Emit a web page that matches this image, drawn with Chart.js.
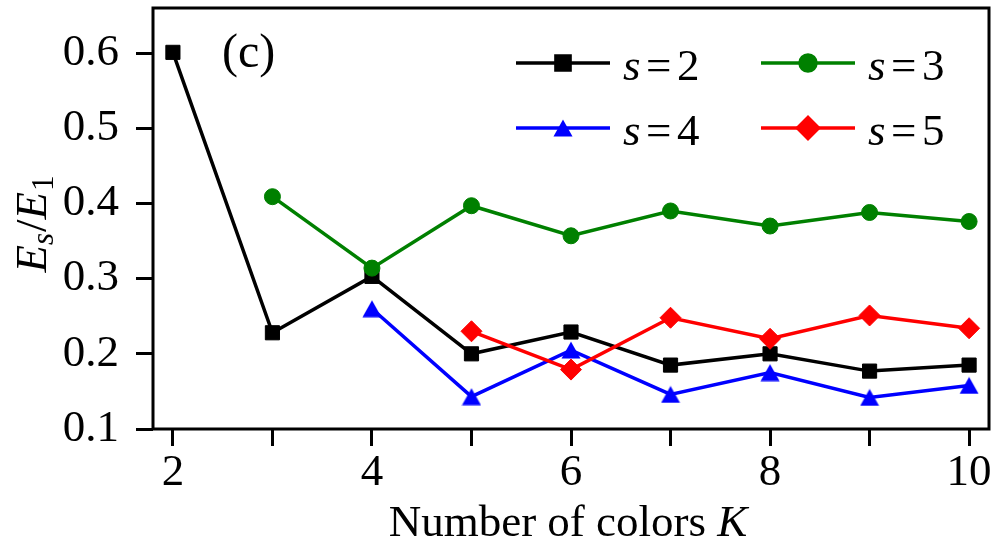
<!DOCTYPE html>
<html>
<head>
<meta charset="utf-8">
<title>Es/E1 vs K</title>
<script src="https://cdn.jsdelivr.net/npm/chart.js@4"></script>
<style>
  html, body { margin: 0; padding: 0; background: #fff; }
</style>
</head>
<body>
<canvas id="grafico" width="993" height="543"></canvas>
<script>
// Número de colores K
const kValores = [2, 3, 4, 5, 6, 7, 8, 9, 10];

// Cociente Es/E1 para cada s (null = sin dato para ese K)
const serieS2 = [0.601, 0.228, 0.303, 0.200, 0.229, 0.185, 0.200, 0.177, 0.185];
const serieS3 = [null, 0.409, 0.314, 0.397, 0.357, 0.390, 0.370, 0.388, 0.376];
const serieS4 = [null, null, 0.260, 0.143, 0.205, 0.146, 0.175, 0.142, 0.158];
const serieS5 = [null, null, null, 0.230, 0.179, 0.248, 0.220, 0.251, 0.234];

// Marcas de los ejes
const ticksX = [2, 3, 4, 5, 6, 7, 8, 9, 10];
const etiquetasX = ['2', '', '4', '', '6', '', '8', '', '10'];
const ticksY = [0.1, 0.2, 0.3, 0.4, 0.5, 0.6];

const FUENTE = '"Liberation Serif", "Times New Roman", serif';
const TAM = 45;

// Triángulo centrado por su caja (como el marcador '^')
function crearTriangulo(color) {
  const c = document.createElement('canvas');
  c.width = 20;
  c.height = 18;
  const g = c.getContext('2d');
  g.fillStyle = color;
  g.beginPath();
  g.moveTo(10, 0.5);
  g.lineTo(19.5, 17.5);
  g.lineTo(0.5, 17.5);
  g.closePath();
  g.fill();
  return c;
}
const trianguloAzul = crearTriangulo('#0000ff');

function aPuntos(valores) {
  return kValores
    .map((k, i) => ({ x: k, y: valores[i] }))
    .filter((p) => p.y !== null);
}

const series = [
  { nombre: '2', valores: serieS2, color: '#000000', estilo: 'rect', radio: 10, orden: 4 },
  { nombre: '3', valores: serieS3, color: '#008000', estilo: 'circle', radio: 8, orden: 3 },
  { nombre: '4', valores: serieS4, color: '#0000ff', estilo: trianguloAzul, radio: 9, orden: 2 },
  { nombre: '5', valores: serieS5, color: '#ff0000', estilo: 'rectRot', radio: 10.5, orden: 1 },
];

// Dibuja una secuencia de trozos de texto con fuentes distintas
function dibujarTrozos(ctx, trozos, x, y) {
  let cx = x;
  trozos.forEach((t) => {
    ctx.font = t.fuente;
    ctx.fillText(t.texto, cx + (t.dx || 0), y + (t.dy || 0));
    cx += ctx.measureText(t.texto).width + (t.dx || 0);
  });
  return cx - x;
}

function anchoTrozos(ctx, trozos) {
  let w = 0;
  trozos.forEach((t) => {
    ctx.font = t.fuente;
    w += ctx.measureText(t.texto).width + (t.dx || 0);
  });
  return w;
}

// Quita el margen que Chart.js reserva para medio rótulo en los extremos
function ajustarEje(tam, esX) {
  return function (scale) {
    if (esX) scale.height = tam; else scale.width = tam;
    scale.paddingTop = 0;
    scale.paddingBottom = 0;
    scale.paddingLeft = 0;
    scale.paddingRight = 0;
  };
}

const extras = {
  id: 'extras',
  afterDraw(chart) {
    const ctx = chart.ctx;
    const area = chart.chartArea;
    ctx.save();

    // Marco completo
    ctx.strokeStyle = '#000';
    ctx.lineWidth = 3;
    ctx.strokeRect(area.left, area.top, area.right - area.left, area.bottom - area.top);

    ctx.fillStyle = '#000';
    ctx.textBaseline = 'alphabetic';
    ctx.textAlign = 'left';

    // Etiqueta del panel
    ctx.font = '48px ' + FUENTE;
    ctx.fillText('(c)', 222, 67);

    // Título del eje X
    const trozosX = [
      { texto: 'Number of colors ', fuente: TAM + 'px ' + FUENTE },
      { texto: 'K', fuente: 'italic ' + TAM + 'px ' + FUENTE },
    ];
    const wx = anchoTrozos(ctx, trozosX);
    dibujarTrozos(ctx, trozosX, 568 - wx / 2, 536);

    // Título del eje Y: Es/E1
    const trozosY = [
      { texto: 'E', fuente: 'italic ' + TAM + 'px ' + FUENTE },
      { texto: 's', fuente: 'italic 31px ' + FUENTE, dy: 7 },
      { texto: '/', fuente: TAM + 'px ' + FUENTE, dx: 1 },
      { texto: 'E', fuente: 'italic ' + TAM + 'px ' + FUENTE },
      { texto: '1', fuente: '31px ' + FUENTE, dy: 7, dx: 1 },
    ];
    const wy = anchoTrozos(ctx, trozosY);
    ctx.save();
    ctx.translate(46, 224 + wy / 2);
    ctx.rotate(-Math.PI / 2);
    dibujarTrozos(ctx, trozosY, 0, 0);
    ctx.restore();

    // Leyenda en dos columnas
    series.forEach((s, i) => {
      const col = i % 2;
      const fila = Math.floor(i / 2);
      const x0 = 516 + col * 245;
      const y0 = 63 + fila * 65;
      ctx.strokeStyle = s.color;
      ctx.lineWidth = 3.5;
      ctx.beginPath();
      ctx.moveTo(x0, y0);
      ctx.lineTo(x0 + 94, y0);
      ctx.stroke();
      ctx.fillStyle = s.color;
      Chart.helpers.drawPoint(ctx, {
        pointStyle: s.estilo,
        radius: s.radio,
        rotation: 0,
        borderWidth: 1,
      }, x0 + 47, y0);

      ctx.fillStyle = '#000';
      const xt = x0 + 107;
      ctx.font = 'italic ' + TAM + 'px ' + FUENTE;
      ctx.fillText('s', xt, y0 + 17);
      ctx.font = TAM + 'px ' + FUENTE;
      ctx.fillText('=', xt + 23, y0 + 17);
      ctx.fillText(s.nombre, xt + 54, y0 + 17);
    });

    ctx.restore();
  },
};

new Chart(document.getElementById('grafico'), {
  type: 'line',
  data: {
    datasets: series.map((s) => ({
      label: 's=' + s.nombre,
      data: aPuntos(s.valores),
      borderColor: s.color,
      backgroundColor: s.color,
      borderWidth: 3.5,
      pointStyle: s.estilo,
      pointRadius: s.radio,
      pointBorderWidth: 1,
      pointBackgroundColor: s.color,
      pointBorderColor: s.color,
      tension: 0,
      fill: false,
      order: s.orden,
    })),
  },
  options: {
    responsive: false,
    animation: false,
    devicePixelRatio: 1,
    layout: { autoPadding: false, padding: { top: 8, right: 4, left: 0, bottom: 0 } },
    plugins: {
      legend: { display: false },
      tooltip: { enabled: false },
    },
    scales: {
      x: {
        type: 'linear',
        min: 1.8,
        max: 10.2,
        afterFit: ajustarEje(114, true),
        afterBuildTicks(scale) { scale.ticks = ticksX.map((v) => ({ value: v })); },
        ticks: {
          color: '#000',
          font: { family: FUENTE, size: TAM },
          padding: 0,
          maxRotation: 0,
          autoSkip: false,
          callback: (v) => etiquetasX[ticksX.indexOf(v)],
        },
        grid: {
          drawOnChartArea: false,
          color: '#000',
          lineWidth: 3,
          tickLength: 17,
        },
        border: { display: false },
      },
      y: {
        type: 'linear',
        min: 0.1,
        max: 0.66,
        afterFit: ajustarEje(153, false),
        afterBuildTicks(scale) { scale.ticks = ticksY.map((v) => ({ value: v })); },
        ticks: {
          color: '#000',
          font: { family: FUENTE, size: TAM },
          padding: 17,
          callback: (v) => v.toFixed(1),
        },
        grid: {
          drawOnChartArea: false,
          color: '#000',
          lineWidth: 3,
          tickLength: 17,
        },
        border: { display: false },
      },
    },
  },
  plugins: [extras],
});
</script>
</body>
</html>
